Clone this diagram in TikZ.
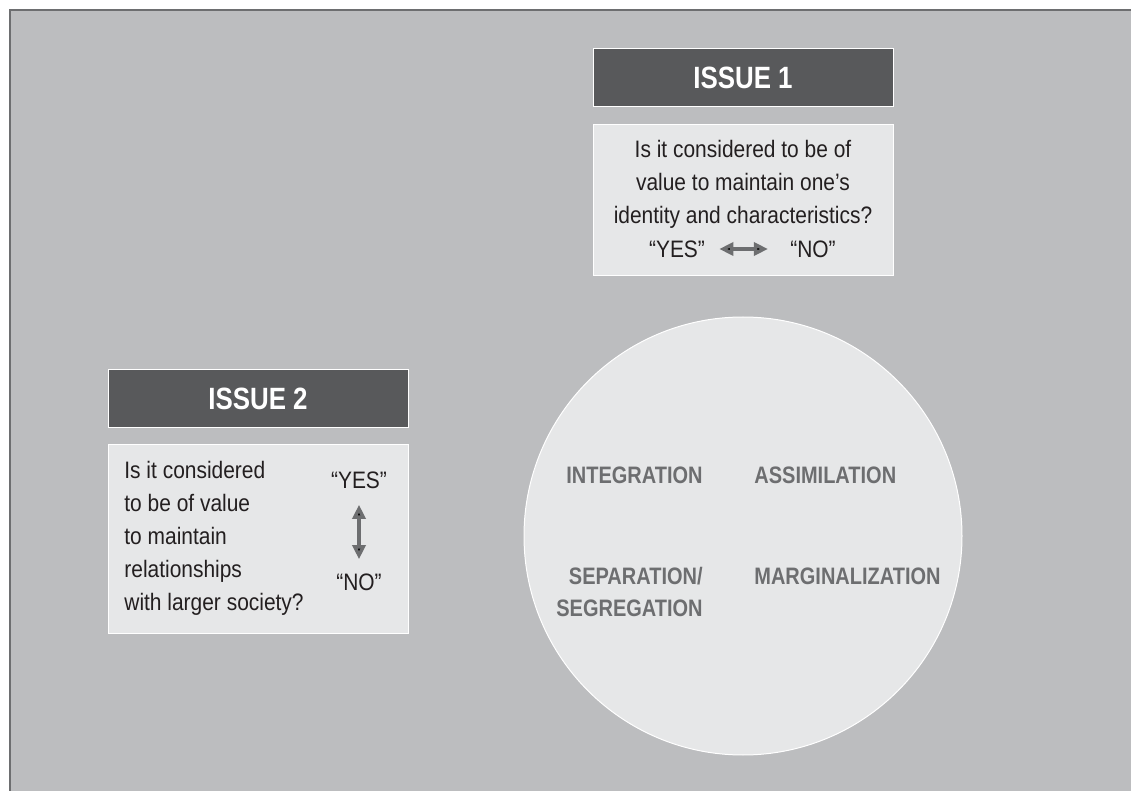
\documentclass[tikz,border=0pt]{standalone}
\usepackage{fontspec}
\setmainfont{Liberation Sans}[FakeStretch=0.88,BoldFeatures={FakeStretch=0.84}]
\usetikzlibrary{arrows.meta}
\definecolor{bggray}{HTML}{BCBDBF}
\definecolor{framegray}{HTML}{6D6E70}
\definecolor{headgray}{HTML}{58595B}
\definecolor{boxgray}{HTML}{E6E7E8}
\definecolor{inkgray}{HTML}{231F20}
\newcommand{\qfont}{\fontsize{11.9}{16.5}\selectfont}

\begin{document}
\begin{tikzpicture}[x=0.5pt,y=-0.5pt,
  header/.style={draw=white,line width=0.5pt,fill=headgray,text=white,
    minimum width=150pt,minimum height=29pt,
    font=\fontsize{15.4}{18}\selectfont\bfseries},
  panel/.style={draw=white,line width=0.5pt,fill=boxgray,minimum width=150pt},
  question/.style={inner sep=0pt,text=inkgray,font=\qfont},
  mode/.style={inner sep=0pt,text=framegray,
    font=\fontsize{11.9}{16}\selectfont\bfseries},
  twoway/.style={{Triangle[length=7pt,width=6.5pt]}-{Triangle[length=7pt,width=6.5pt]},
    draw=framegray,line width=1.7pt}]
\useasboundingbox (0,0) rectangle (1131,791);
\fill[white] (0,0) rectangle (1131,791);
\fill[bggray] (10,10) rectangle (1131,791);
\draw[framegray,line width=1pt] (10,791) -- (10,10) -- (1131,10);

% issue 1
\node[header] (issue-1) at (743,78) {ISSUE 1};
\node[panel,minimum height=75.5pt] (issue-1-box) at (743,200.5) {};
\node[question,align=center] (issue-1-q) at (743,184)
     {Is it considered to be of\\value to maintain one’s\\identity and characteristics?};
\node[question] (yes-1) at (677,249) {“YES”};
\node[question] (no-1) at (813,249) {“NO”};
\path[twoway,shorten <=7pt,shorten >=11pt] (yes-1) edge (no-1);

% issue 2
\node[header] (issue-2) at (258,399) {ISSUE 2};
\node[panel,minimum height=94pt] (issue-2-box) at (258,539) {};
\node[question,align=left,anchor=west] (issue-2-q) at (124,538)
     {Is it considered\\to be of value\\to maintain\\relationships\\with larger society?};
\node[question] (yes-2) at (359,480) {“YES”};
\node[question] (no-2) at (359,582) {“NO”};
\path[twoway,shorten <=8pt,shorten >=7pt] (yes-2) edge (no-2);

% strategies
\node[circle,draw=white,line width=0.5pt,fill=boxgray,minimum size=219pt] (modes) at (743,536) {};
\node[mode,anchor=east] (integ) at (703,475) {INTEGRATION};
\node[mode,anchor=west] (assim) at (754,475) {ASSIMILATION};
\node[mode,anchor=east,align=right] (separ) at (703,592) {SEPARATION/\\SEGREGATION};
\node[mode,anchor=west] (margin) at (754,576) {MARGINALIZATION};
\end{tikzpicture}
\end{document}
